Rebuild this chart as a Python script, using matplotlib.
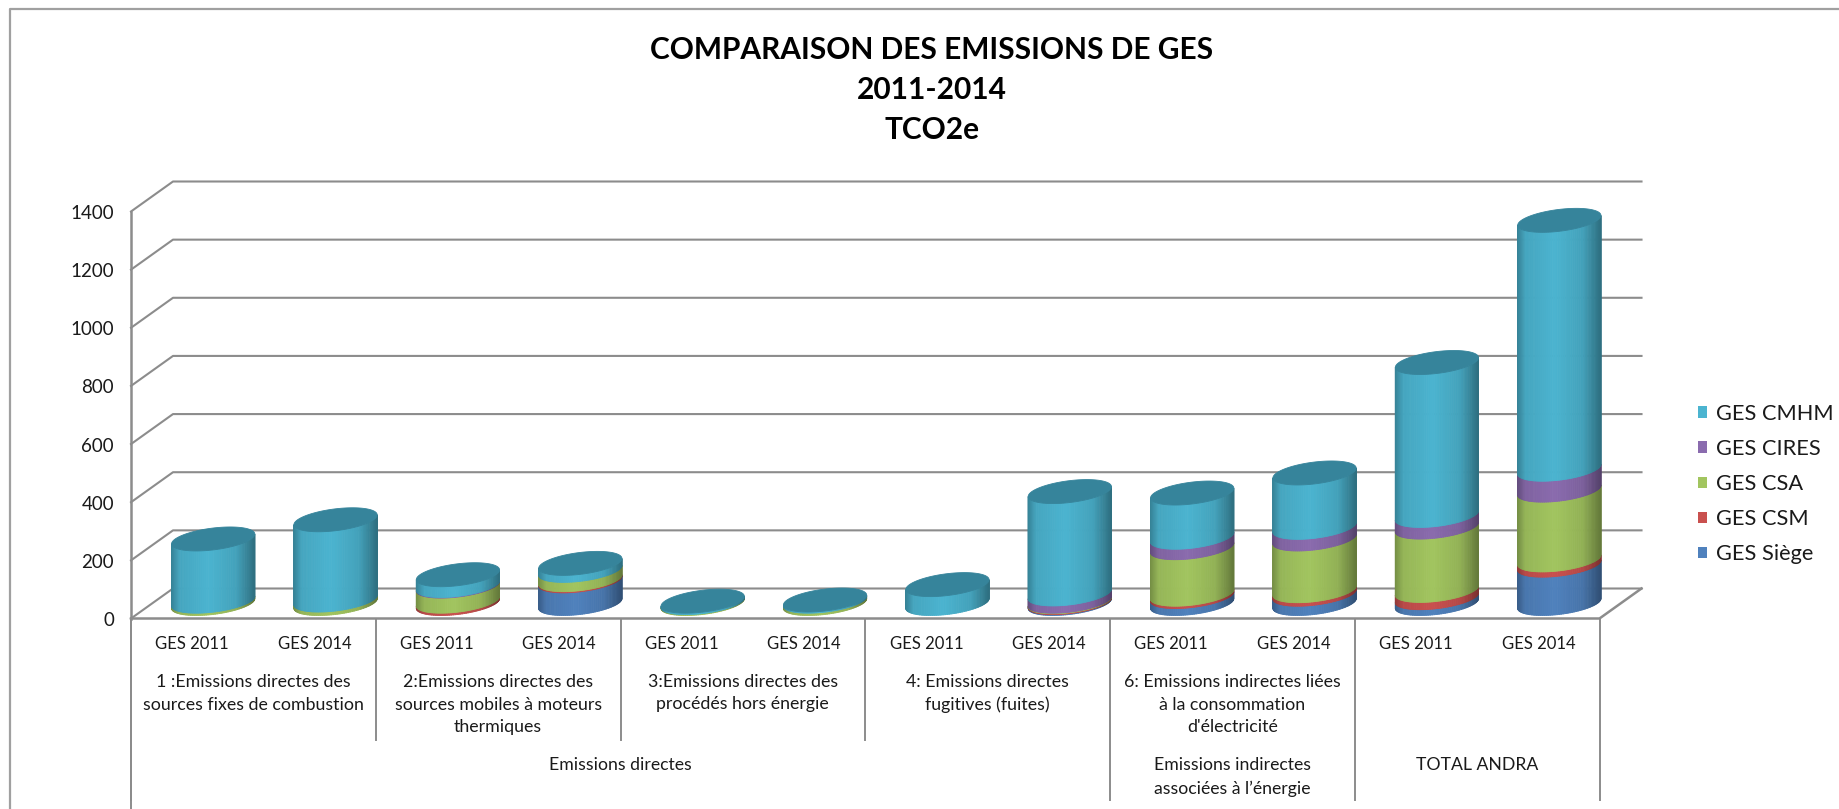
# -*- coding: utf-8 -*-
import numpy as np
import matplotlib
matplotlib.use('Agg')
import matplotlib.pyplot as plt
from matplotlib.collections import PolyCollection
from matplotlib.patches import Patch, Polygon

TITLE = 'COMPARAISON DES EMISSIONS DE GES\n2011-2014\nTCO2e'

BAR_LABELS = ['GES 2011', 'GES 2014'] * 6
GROUP_LABELS = [
    "1 :Emissions directes des\nsources fixes de combustion",
    "2:Emissions directes des\nsources mobiles à moteurs\nthermiques",
    "3:Emissions directes des\nprocédés hors énergie",
    "4: Emissions directes\nfugitives (fuites)",
    "6: Emissions indirectes liées\nà la consommation\nd'électricité",
    "",
]
TOP_LABELS = ['Emissions directes', 'Emissions indirectes\nassociées à l’énergie', 'TOTAL ANDRA']
TOP_SPANS = [(0, 8), (8, 10), (10, 12)]

SERIES_NAMES = ['GES Siège', 'GES CSM', 'GES CSA', 'GES CIRES', 'GES CMHM']
SIEGE = [0, 0, 0, 78, 0, 0, 0, 3, 24, 32, 20, 132]
CSM = [0, 0, 8, 4, 0, 0, 0, 3, 8, 12, 25, 18]
CSA = [8, 12, 52, 32, 3, 8, 0, 2, 160, 178, 218, 240]
CIRES = [0, 0, 2, 0, 0, 0, 0, 25, 36, 40, 40, 72]
CMHM = [214, 276, 37, 24, 5, 4, 65, 352, 152, 187, 526, 856]
COLORS = ['#4F81BD', '#C9504E', '#A2C55F', '#8A6BAE', '#4BB4D0']
CAP_COLOR = '#36849B'
LINE_COLOR = '#8C8C8C'
TEXT_COLOR = '#1A1A1A'

TICKS = [0, 200, 400, 600, 800, 1000, 1200, 1400]

# position du graphique en pixels
W, H = 1840, 809
X0, X1 = 131.0, 1599.5
Y0, Y1400 = 618.5, 211.5
PX_X = (X1 - X0) / 12
PX_Y = (Y0 - Y1400) / 1400
DEPTH_X = 42 / PX_X
DEPTH_Y = 30 / PX_Y


def px_x(x):
    return (x - X0) / PX_X


def px_y(y):
    return (Y0 - y) / PX_Y


def shade(color, u):
    rgb = np.array(matplotlib.colors.to_rgb(color))
    k = np.interp(u, [0, 0.10, 0.45, 0.78, 1], [0.72, 0.92, 1, 0.90, 0.62])
    return np.clip(rgb * k, 0, 1)


def draw_cylinder(ax, i, values):
    cx = i + 0.5 + DEPTH_X / 2
    base = DEPTH_Y / 2
    a, b = 38 / PX_X, 17 / PX_X
    c = 12 / PX_Y
    t0 = np.arctan2(b, a)
    t = np.linspace(t0 - np.pi, t0, 61)
    xs = cx + a * np.cos(t) + b * np.sin(t)
    ys = c * np.sin(t)
    u = (xs - xs[0]) / (xs[-1] - xs[0])

    bottom = 0
    for val, col in zip(values, COLORS):
        if val <= 0:
            continue
        top = bottom + val
        quads = []
        cols = []
        for k in range(len(t) - 1):
            quads.append([(xs[k], base + bottom + ys[k]), (xs[k + 1], base + bottom + ys[k + 1]),
                          (xs[k + 1], base + top + ys[k + 1]), (xs[k], base + top + ys[k])])
            cols.append(shade(col, (u[k] + u[k + 1]) / 2))
        ax.add_collection(PolyCollection(quads, facecolors=cols, edgecolors=cols, linewidths=0.6, zorder=3 + i))
        bottom = top

    tt = np.linspace(0, 2 * np.pi, 120)
    cap_x = cx + a * np.cos(tt) + b * np.sin(tt)
    cap_y = base + bottom + c * np.sin(tt)
    ax.add_patch(Polygon(np.column_stack([cap_x, cap_y]), closed=True, fc=CAP_COLOR, ec=CAP_COLOR, lw=0.6, zorder=3 + i))


def main():
    plt.rcParams['font.family'] = ['Lato', 'DejaVu Sans']
    fig = plt.figure(figsize=(W / 100, H / 100), dpi=100)
    ax = fig.add_axes([0, 0, 1, 1])
    ax.set_xlim(px_x(0), px_x(W))
    ax.set_ylim(px_y(H), px_y(0))
    ax.axis('off')

    # cadre
    ax.plot([px_x(10), px_x(10), px_x(W)], [px_y(H), px_y(9), px_y(9)], color='#A0A0A0', lw=1.6)

    # parois et grille
    for v in TICKS:
        ax.plot([0, DEPTH_X, 12 + DEPTH_X], [v, v + DEPTH_Y, v + DEPTH_Y], color=LINE_COLOR, lw=1.5, zorder=1)
        ax.text(px_x(114), v - 2 / PX_Y, str(v), ha='right', va='center', fontsize=13.5, color=TEXT_COLOR)
    ax.plot([0, 0], [0, 1400], color=LINE_COLOR, lw=1.8, zorder=1)
    ax.plot([0, 12, 12 + DEPTH_X], [0, 0, DEPTH_Y], color=LINE_COLOR, lw=1.8, zorder=2)

    # barres
    for i in range(12):
        vals = [SIEGE[i], CSM[i], CSA[i], CIRES[i], CMHM[i]]
        draw_cylinder(ax, i, vals)

    # axe multi-niveaux
    for i in range(0, 14, 2):
        low = 800 if i in (0, 8, 10, 12) else 740
        ax.plot([i, i], [0, px_y(low)], color=LINE_COLOR, lw=1.4, zorder=2)
    ax.plot([0, 0], [0, px_y(H)], color=LINE_COLOR, lw=1.4, zorder=2)

    for i, lab in enumerate(BAR_LABELS):
        ax.text(i + 0.5, px_y(644), lab, ha='center', va='center', fontsize=12, color=TEXT_COLOR)
    for i, lab in enumerate(GROUP_LABELS):
        ax.text(2 * i + 1, px_y(674), lab, ha='center', va='top', fontsize=12.8, color=TEXT_COLOR, linespacing=1.5)
    for (a, b), lab in zip(TOP_SPANS, TOP_LABELS):
        ax.text((a + b) / 2, px_y(757), lab, ha='center', va='top', fontsize=12.7, color=TEXT_COLOR, linespacing=1.6)

    fig.text(932 / W, 1 - 90 / H, TITLE, ha='center', va='center', fontsize=21.5, fontweight='bold', color='black', linespacing=1.52)

    handles = [Patch(fc=c, ec='none', label=n) for c, n in zip(COLORS, SERIES_NAMES)][::-1]
    fig.legend(handles=handles, loc='center left', bbox_to_anchor=(1698 / W, 1 - 484 / H), frameon=False,
               fontsize=15.7, handlelength=0.43, handleheight=0.43, handletextpad=0.4, labelspacing=0.69,
               labelcolor=TEXT_COLOR, borderpad=0, borderaxespad=0)

    fig.savefig('out.png', dpi=100)


if __name__ == '__main__':
    main()
